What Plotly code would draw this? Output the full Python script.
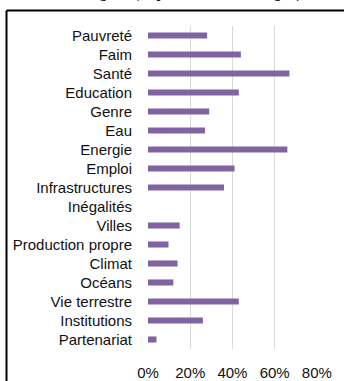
import plotly.graph_objects as go

categories = ["Pauvreté", "Faim", "Santé", "Education", "Genre", "Eau", "Energie",
              "Emploi", "Infrastructures", "Inégalités", "Villes", "Production propre",
              "Climat", "Océans", "Vie terrestre", "Institutions", "Partenariat"]
values = [0.28, 0.44, 0.67, 0.43, 0.29, 0.27, 0.66, 0.41, 0.36, 0.0, 0.15, 0.097,
          0.14, 0.12, 0.43, 0.26, 0.04]
tick_vals = [0, 0.2, 0.4, 0.6, 0.8]
tick_text = ["0%", "20%", "40%", "60%", "80%"]
title_text = "<b>Thèmes – Régions (en pour cent des stratégies)</b>"

W, H = 344, 381
PL, PR, PT, PB = 148, 317, 26, 349  # plot area in pixels
TITLE_H = 6  # visible strip of the (cut) title at the top

fig = go.Figure()
fig.add_trace(go.Bar(
    x=values, y=categories, orientation="h",
    marker=dict(color="#8064A2", line=dict(width=0)),
    width=0.32, hoverinfo="skip",
))
# title, clipped to a thin strip at the very top (only the bottom of the glyphs shows)
fig.add_trace(go.Scatter(
    x=[162], y=[TITLE_H + 6], mode="text", text=[title_text],
    textposition="middle center", cliponaxis=True, hoverinfo="skip",
    textfont=dict(family="Liberation Serif, Times New Roman, serif", size=14,
                  color="black"),
    xaxis="x2", yaxis="y2",
))

fig.update_layout(
    width=W, height=H,
    margin=dict(l=0, r=0, t=0, b=0, pad=0, autoexpand=False),
    paper_bgcolor="white", plot_bgcolor="white",
    showlegend=False,
    font=dict(family="Liberation Sans, Arial, sans-serif", size=15, color="#111111"),
    xaxis=dict(domain=[PL / W, PR / W], range=[0, 0.8005], tickvals=tick_vals,
               ticktext=tick_text, showgrid=True, gridcolor="#D9D9D9", gridwidth=1,
               zeroline=False, showline=False, ticks="", ticklabelstandoff=13,
               automargin=False, fixedrange=True),
    yaxis=dict(domain=[(H - PB) / H, (H - PT) / H], categoryorder="array",
               categoryarray=categories, autorange="reversed",
               showgrid=False, zeroline=False, showline=False, ticks="",
               ticklabelstandoff=15, automargin=False, fixedrange=True),
    xaxis2=dict(domain=[0, 1], range=[0, W], visible=False, fixedrange=True,
                anchor="y2"),
    yaxis2=dict(domain=[(H - TITLE_H) / H, 1], range=[0, TITLE_H], visible=False,
                fixedrange=True, anchor="x2"),
    shapes=[
        dict(type="line", xref="paper", yref="paper",
             x0=6.5 / W, x1=1, y0=(H - 10.5) / H, y1=(H - 10.5) / H,
             line=dict(color="black", width=2)),
        dict(type="line", xref="paper", yref="paper",
             x0=6.5 / W, x1=6.5 / W, y0=(H - 10.5) / H, y1=0,
             line=dict(color="black", width=2)),
    ],
)

fig.write_html(
    "out.html",
    config={"displayModeBar": False},
    post_script="document.documentElement.style.overflow='hidden';"
                "document.body.style.overflow='hidden';document.body.style.margin='0';",
)
